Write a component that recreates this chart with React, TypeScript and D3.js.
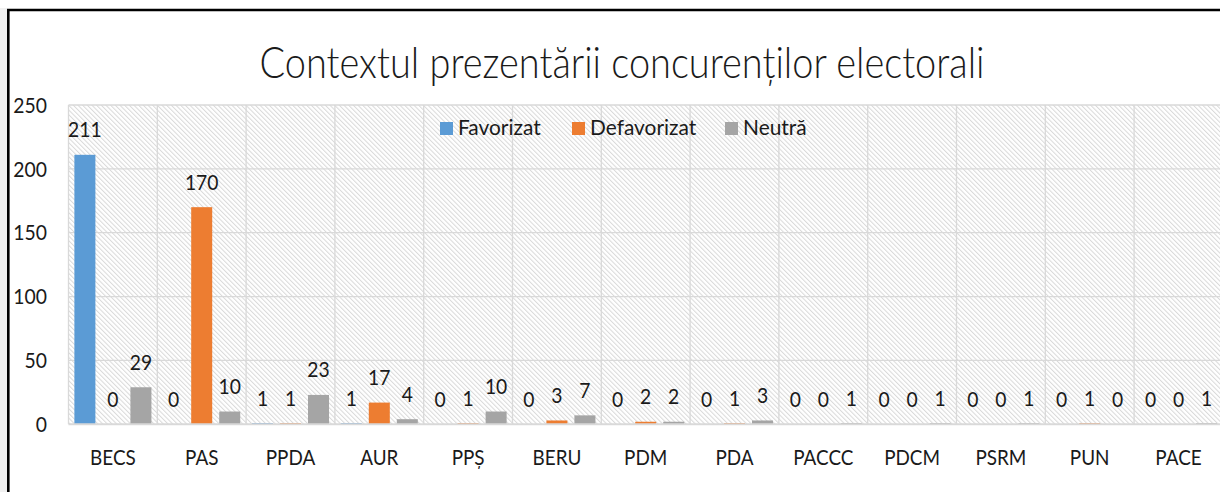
import React from "react";
import * as d3 from "d3";

const categories = ["BECS", "PAS", "PPDA", "AUR", "PPȘ", "BERU", "PDM", "PDA", "PACCC", "PDCM", "PSRM", "PUN", "PACE"];
const favorizat = [211, 0, 1, 1, 0, 0, 0, 0, 0, 0, 0, 0, 0];
const defavorizat = [0, 170, 1, 17, 1, 3, 2, 1, 0, 0, 0, 1, 0];
const neutra = [29, 10, 23, 4, 10, 7, 2, 3, 1, 1, 1, 0, 1];
const seriesNames = ["Favorizat", "Defavorizat", "Neutră"];
const seriesColors = ["#5b9bd5", "#ed7d31", "#a5a5a5"];
const yTicks = [0, 50, 100, 150, 200, 250];
const title = "Contextul prezentării concurenților electorali";

const W = 1220;
const H = 492;
const FONT = "Lato, 'Open Sans', sans-serif";

function Label({ x, y, size, anchor = "middle", sx = 0.9, children, fill = "#1a1a1a" }) {
  return (
    <text
      transform={`translate(${x},${y}) scale(${sx},1)`}
      textAnchor={anchor}
      fontSize={size}
      fontFamily={FONT}
      fill={fill}
    >
      {children}
    </text>
  );
}

export default function App() {
  const left = 68.5;
  const step = 88.8;
  const x = d3.scaleBand().domain(categories).range([left, left + step * categories.length]).padding(0);
  const x1 = d3.scaleBand().domain(seriesNames).range([0, x.bandwidth()]).paddingInner(0.25).paddingOuter(0.21);
  const y = d3.scaleLinear().domain([0, 250]).range([424.3, 105]);

  const series = [favorizat, defavorizat, neutra];
  const legendX = [440, 572, 725];

  return (
    <div style={{ position: "fixed", left: 0, top: 0 }}>
      <svg width={W} height={H} style={{ display: "block", background: "#fff" }}>
        <defs>
          <pattern id="hatch" patternUnits="userSpaceOnUse" width={3.3} height={3.3} patternTransform="rotate(-45)">
            <rect width={3.3} height={3.3} fill="#fff" />
            <rect width={1} height={3.3} fill="#d9d9d9" />
          </pattern>
        </defs>

        {/* page edge + frame */}
        <rect x={0} y={8} width={7} height={H - 8} fill="#f0f0f0" />
        <path d={`M8.3,${H} V10 H${W}`} fill="none" stroke="#000" strokeWidth={2.6} />

        <text x={622} y={78} textAnchor="middle" fontSize={44} fontWeight={300} fontFamily={FONT}
          fill="#1a1a1a" textLength={725} lengthAdjust="spacingAndGlyphs">
          {title}
        </text>

        {/* plot area */}
        <rect x={left} y={y(250)} width={W - left} height={y(0) - y(250)} fill="url(#hatch)" />
        {yTicks.filter((t) => t > 0).map((t) => (
          <line key={"h" + t} x1={left} x2={W} y1={y(t)} y2={y(t)} stroke="#d9d9d9" strokeWidth={1.3} />
        ))}
        {categories.map((c) => (
          <line key={"v" + c} x1={x(c)} x2={x(c)} y1={y(250)} y2={y(0)} stroke="#d9d9d9" strokeWidth={1.3} />
        ))}

        {yTicks.map((t) => (
          <Label key={"yt" + t} x={47} y={y(t) + 7.7} size={21.5} anchor="end">{t}</Label>
        ))}

        {categories.map((c) => (
          <Label key={"xl" + c} x={x(c) + x.bandwidth() / 2} y={465} size={21}>{c}</Label>
        ))}

        {series.map((vals, si) =>
          categories.map((c, ci) => {
            const bx = x(c) + x1(seriesNames[si]);
            const top = y(vals[ci]);
            return (
              <rect key={"b" + si + "-" + c} x={bx} y={top} width={x1.bandwidth()} height={y(0) - top} fill={seriesColors[si]} />
            );
          })
        )}

        {/* category axis line on top of the bars */}
        <line x1={left} x2={W} y1={y(0)} y2={y(0)} stroke="#d9d9d9" strokeWidth={2} />

        {series.map((vals, si) =>
          categories.map((c, ci) => {
            const bx = x(c) + x1(seriesNames[si]);
            const top = y(vals[ci]);
            return (
              <Label key={"l" + si + "-" + c} x={bx + x1.bandwidth() / 2} y={top - 17.5} size={21} sx={0.92}>{vals[ci]}</Label>
            );
          })
        )}

        {seriesNames.map((s, i) => (
          <g key={"lg" + s}>
            <rect x={legendX[i]} y={122} width={13} height={13} fill={seriesColors[i]} />
            <Label x={legendX[i] + 18} y={135.3} size={20.5} sx={1.02} anchor="start">{s}</Label>
          </g>
        ))}
      </svg>
    </div>
  );
}
